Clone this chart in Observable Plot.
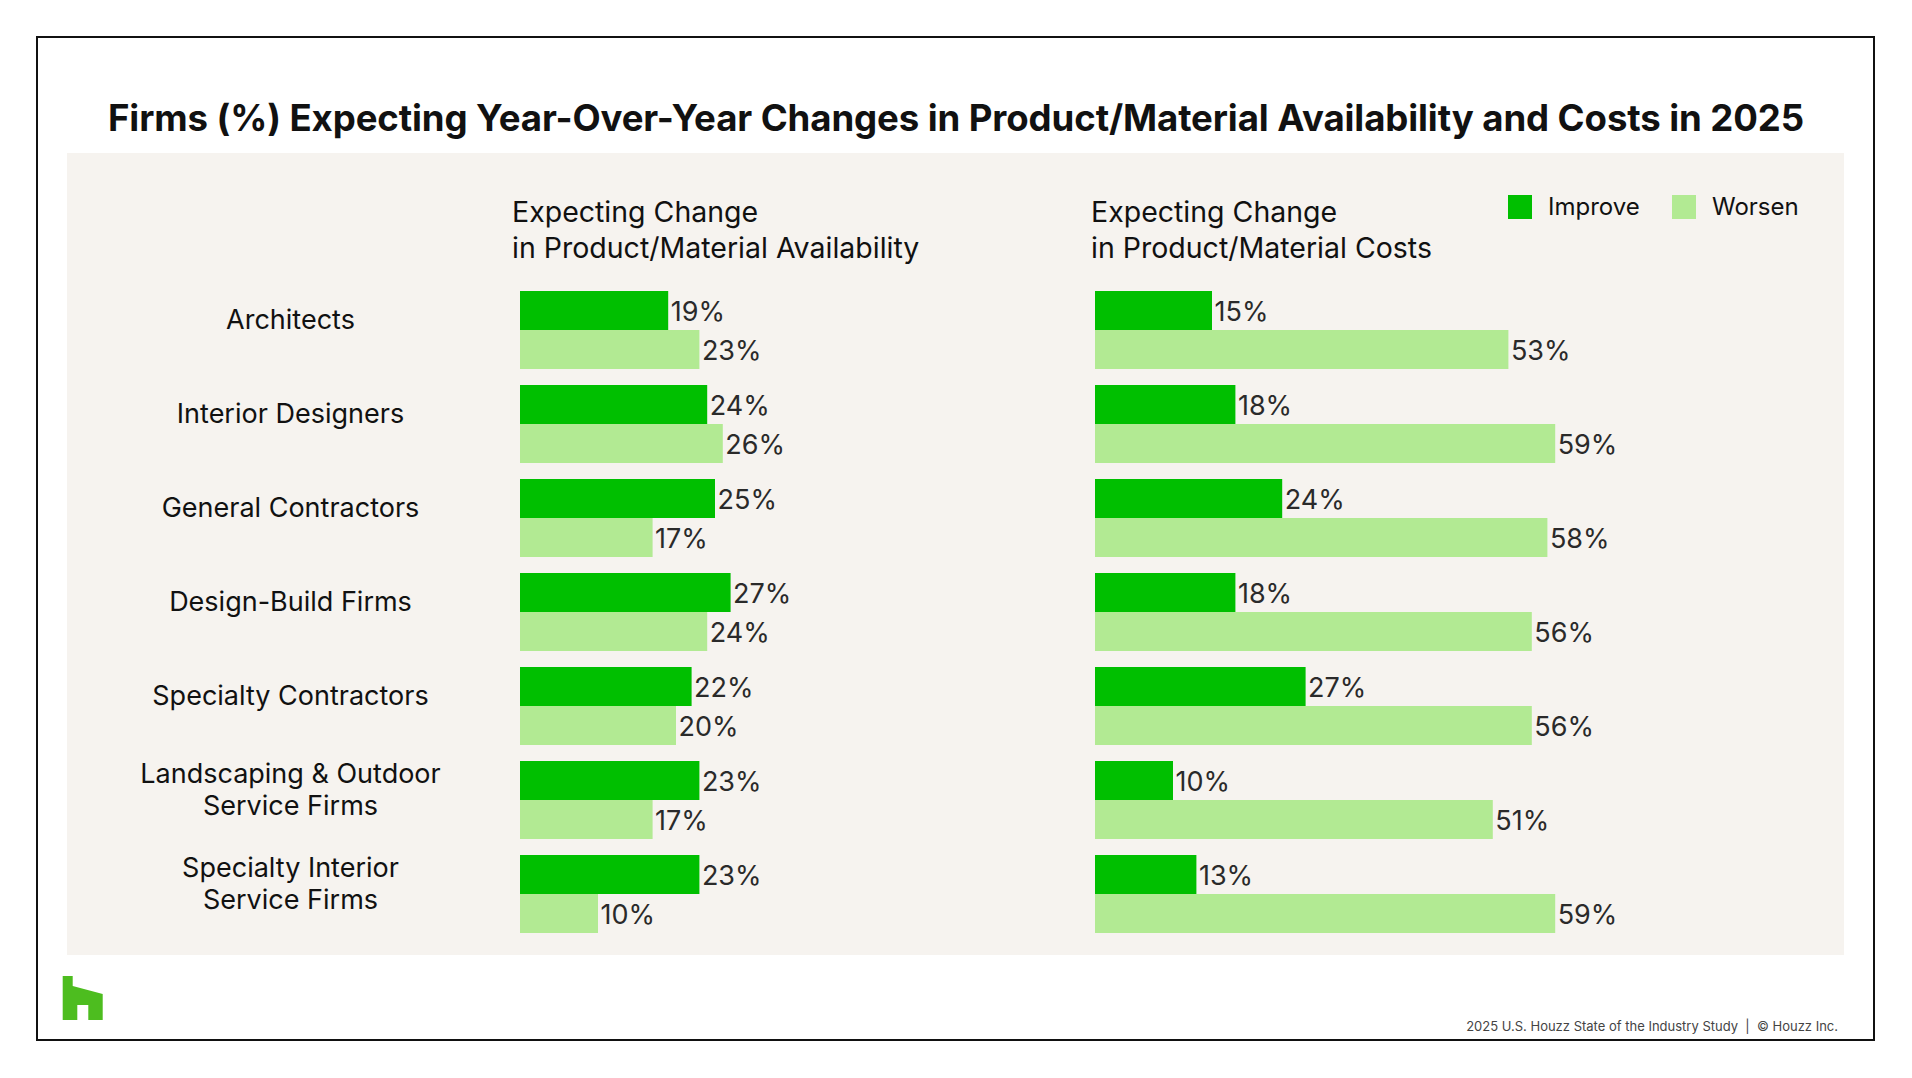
<!DOCTYPE html>
<html>
<head>
<meta charset="utf-8">
<script src="https://cdn.jsdelivr.net/npm/d3@7"></script>
<script src="https://cdn.jsdelivr.net/npm/@observablehq/plot@0.6"></script>
<style>
  html, body { margin: 0; padding: 0; background: #ffffff; }
  body { width: 1912px; height: 1078px; position: relative; overflow: hidden; font-family: Inter, "Open Sans", sans-serif; color: #111; }
  #frame { position: absolute; left: 36px; top: 36px; width: 1839px; height: 1005px; border: 2px solid #111; box-sizing: border-box; }
  #panel { position: absolute; left: 67px; top: 153px; width: 1777px; height: 802px; background: #f6f3ef; }
  #title { position: absolute; left: 62px; width: 1788px; top: 100px; font-size: 36.6px; line-height: 1; font-weight: 700; text-align: center; color: #111; white-space: nowrap; letter-spacing: -0.1px; }
  .hdr { position: absolute; top: 194px; font-size: 28.5px; line-height: 36px; color: #111; white-space: pre; }
  .sw { position: absolute; top: 195px; width: 24px; height: 24px; }
  .lt { position: absolute; top: 195px; font-size: 24px; line-height: 1; color: #111; white-space: nowrap; }
  #chart { position: absolute; left: 67px; top: 153px; }
  #footer { position: absolute; right: 74px; top: 1020px; font-size: 13px; line-height: 1; color: #444; white-space: nowrap; }
  #logo { position: absolute; left: 62px; top: 976px; }
</style>
</head>
<body>
<div id="frame"></div>
<div id="panel"></div>
<div id="title">Firms (%) Expecting Year-Over-Year Changes in Product/Material Availability and Costs in 2025</div>
<div id="hdrs"></div>
<div id="legend"></div>
<div id="chart"></div>
<svg id="logo" width="42" height="46" viewBox="0 0 42 46">
  <polygon points="0.7,0 10.7,0 10.7,10 40.7,18 40.7,44 26.3,44 26.3,29 15.3,29 15.3,44 0.7,44" fill="#4dbd1f"/>
</svg>
<div id="footer">2025 U.S. Houzz State of the Industry Study &nbsp;|&nbsp; © Houzz Inc.</div>
<script>
// ---- Data ----
const categories = [
  "Architects",
  "Interior Designers",
  "General Contractors",
  "Design-Build Firms",
  "Specialty Contractors",
  "Landscaping & Outdoor\nService Firms",
  "Specialty Interior\nService Firms"
];
const series = ["Improve", "Worsen"];
const seriesColors = ["#00bf00", "#b2ea93"];
const panels = ["Availability", "Costs"];
const panelTitles = [
  "Expecting Change\nin Product/Material Availability",
  "Expecting Change\nin Product/Material Costs"
];
const availabilityImprove = [19, 24, 25, 27, 22, 23, 23];
const availabilityWorsen  = [23, 26, 17, 24, 20, 17, 10];
const costsImprove        = [15, 18, 24, 18, 27, 10, 13];
const costsWorsen         = [53, 59, 58, 56, 56, 51, 59];

// ---- Build table ----
const valueTable = {
  Availability: { Improve: availabilityImprove, Worsen: availabilityWorsen },
  Costs:        { Improve: costsImprove,        Worsen: costsWorsen }
};
const rows = [];
for (const p of panels) {
  for (const s of series) {
    categories.forEach((c, i) => rows.push({ panel: p, series: s, category: c, value: valueTable[p][s][i] }));
  }
}

// ---- Headers & legend ----
const hdrX = [512, 1091];
const hdrs = document.getElementById("hdrs");
panelTitles.forEach((t, i) => {
  const d = document.createElement("div");
  d.className = "hdr";
  d.style.left = hdrX[i] + "px";
  d.textContent = t;
  hdrs.appendChild(d);
});
const legendX = [1508, 1672];
const legend = document.getElementById("legend");
series.forEach((s, i) => {
  const sw = document.createElement("div");
  sw.className = "sw";
  sw.style.left = legendX[i] + "px";
  sw.style.background = seriesColors[i];
  legend.appendChild(sw);
  const t = document.createElement("div");
  t.className = "lt";
  t.style.left = (legendX[i] + 40) + "px";
  t.textContent = s;
  legend.appendChild(t);
});

// ---- Chart ----
const chart = Plot.plot({
  width: 1777,
  height: 805,
  marginLeft: 453,
  marginRight: 281,
  marginTop: 137,
  marginBottom: 24,
  style: { background: "transparent", fontFamily: "Inter, 'Open Sans', sans-serif", color: "#111", overflow: "visible" },
  x: { domain: [0, 60], axis: null },
  y: { domain: series, padding: 0, axis: null },
  fx: { domain: panels, paddingInner: 0.1861, paddingOuter: 0, axis: null },
  fy: { domain: categories, paddingInner: 0.173, paddingOuter: 0, axis: null },
  color: { domain: series, range: seriesColors },
  marks: [
    Plot.barX(rows, { x: "value", y: "series", fx: "panel", fy: "category", fill: "series" }),
    Plot.text(rows, {
      x: "value", y: "series", fx: "panel", fy: "category",
      text: d => d.value + "%", textAnchor: "start", dx: 2, dy: 1,
      fontSize: 27, fill: "#2a2a2a", letterSpacing: -0.3
    }),
    Plot.text(categories, {
      fy: d => d, fx: () => panels[0], text: d => d,
      frameAnchor: "left", textAnchor: "middle", lineAnchor: "middle",
      dx: -230, dy: -12, fontSize: 27, lineHeight: 1.2, fill: "#111"
    })
  ]
});
document.getElementById("chart").appendChild(chart);
</script>
</body>
</html>
